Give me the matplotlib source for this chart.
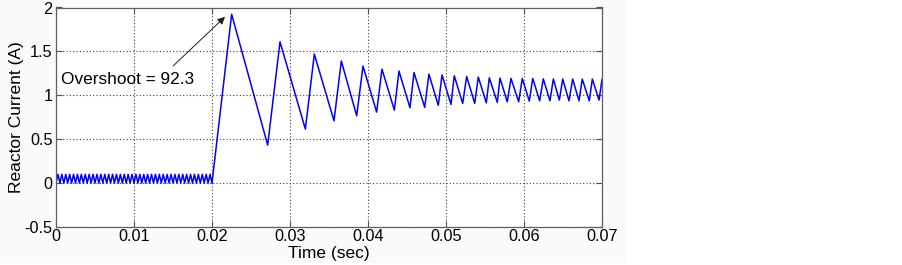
import matplotlib
matplotlib.use("Agg")
import matplotlib.pyplot as plt
from matplotlib.patches import Rectangle

plt.rcParams['font.family'] = ['Liberation Sans', 'DejaVu Sans']

# ripple before step (time in ms, current in A)
ripple_t_ms = [0, 0.25, 0.5, 0.75, 1.0, 1.25, 1.5, 1.75, 2.0, 2.25, 2.5, 2.75, 3.0, 3.25, 3.5, 3.75,
               4.0, 4.25, 4.5, 4.75, 5.0, 5.25, 5.5, 5.75, 6.0, 6.25, 6.5, 6.75, 7.0, 7.25, 7.5, 7.75,
               8.0, 8.25, 8.5, 8.75, 9.0, 9.25, 9.5, 9.75, 10.0, 10.25, 10.5, 10.75, 11.0, 11.25, 11.5, 11.75,
               12.0, 12.25, 12.5, 12.75, 13.0, 13.25, 13.5, 13.75, 14.0, 14.25, 14.5, 14.75, 15.0, 15.25, 15.5, 15.75,
               16.0, 16.25, 16.5, 16.75, 17.0, 17.25, 17.5, 17.75, 18.0, 18.25, 18.5, 18.75, 19.0, 19.25, 19.5, 19.75, 20.0]
ripple_i = [0.0, 0.1, 0.0, 0.1, 0.0, 0.1, 0.0, 0.1, 0.0, 0.1, 0.0, 0.1, 0.0, 0.1, 0.0, 0.1,
            0.0, 0.1, 0.0, 0.1, 0.0, 0.1, 0.0, 0.1, 0.0, 0.1, 0.0, 0.1, 0.0, 0.1, 0.0, 0.1,
            0.0, 0.1, 0.0, 0.1, 0.0, 0.1, 0.0, 0.1, 0.0, 0.1, 0.0, 0.1, 0.0, 0.1, 0.0, 0.1,
            0.0, 0.1, 0.0, 0.1, 0.0, 0.1, 0.0, 0.1, 0.0, 0.1, 0.0, 0.1, 0.0, 0.1, 0.0, 0.1,
            0.0, 0.1, 0.0, 0.1, 0.0, 0.1, 0.0, 0.1, 0.0, 0.1, 0.0, 0.1, 0.0, 0.1, 0.0, 0.1, 0.0]

# response after step (peaks and troughs)
step_t = [0.02252, 0.02714, 0.02872, 0.03197, 0.03312, 0.03564, 0.03658, 0.03855, 0.03936, 0.04111,
          0.04179, 0.04338, 0.04397, 0.04538, 0.04590, 0.04727, 0.04781, 0.04901, 0.04949, 0.05064,
          0.05106, 0.05214, 0.05265, 0.05368, 0.05414, 0.05517, 0.05555, 0.05658, 0.05692, 0.05786,
          0.05833, 0.05932, 0.05978, 0.06068, 0.06112, 0.06201, 0.06247, 0.06333, 0.06376, 0.06453,
          0.06496, 0.06577, 0.06624, 0.06705, 0.06747, 0.06837, 0.06876, 0.06962, 0.07000]
step_i = [1.923, 0.433, 1.609, 0.615, 1.469, 0.710, 1.390, 0.767, 1.333, 0.809,
          1.298, 0.831, 1.276, 0.858, 1.259, 0.863, 1.241, 0.885, 1.232, 0.896,
          1.222, 0.908, 1.215, 0.908, 1.207, 0.915, 1.199, 0.919, 1.196, 0.926,
          1.192, 0.926, 1.192, 0.934, 1.192, 0.937, 1.188, 0.937, 1.185, 0.945,
          1.185, 0.937, 1.185, 0.937, 1.185, 0.937, 1.185, 0.945, 1.180]

x_ticks = [0, 0.01, 0.02, 0.03, 0.04, 0.05, 0.06, 0.07]
x_labels = ["0", "0.01", "0.02", "0.03", "0.04", "0.05", "0.06", "0.07"]
y_ticks = [-0.5, 0, 0.5, 1, 1.5, 2]
y_labels = ["-0.5", "0", "0.5", "1", "1.5", "2"]

t = [v / 1000.0 for v in ripple_t_ms] + step_t
i = ripple_i + step_i

fig = plt.figure(figsize=(9.02, 2.65), dpi=100)
fig.patches.append(Rectangle((0, 0.008), 626 / 902, 0.992, transform=fig.transFigure,
                             facecolor='#fafafa', edgecolor='none', zorder=-10))
ax = fig.add_axes([56 / 902, 1 - 227 / 265, (602 - 56) / 902, (227 - 7.5) / 265])
ax.plot(t, i, color='#0000ff', lw=1.1)

ax.set_xlim(0, 0.07)
ax.set_ylim(-0.5, 2)
ax.set_xticks(x_ticks)
ax.set_xticklabels(x_labels)
ax.set_yticks(y_ticks)
ax.set_yticklabels(y_labels)
ax.tick_params(direction='in', top=True, right=True, length=4, width=0.8, color='#505050',
               labelsize=11.7, labelcolor='#000000')
ax.tick_params(axis='x', pad=1.5)
ax.tick_params(axis='y', pad=2.5)
for s in ax.spines.values():
    s.set_color('#606060')
    s.set_linewidth(0.9)
ax.grid(True, linestyle=(0, (1, 2)), color='#404040', linewidth=0.8)
ax.set_axisbelow(True)

ax.set_xlabel('Time (sec)', fontsize=12.5)
ax.xaxis.set_label_coords(0.5, -(246 - 227) / 219.5)
ax.set_ylabel('Reactor Current (A)', fontsize=12.5)
ax.yaxis.label.set_verticalalignment('center')
ax.yaxis.set_label_coords((17 - 56) / 546, 0.5)

ax.annotate('Overshoot = 92.3', xy=(0.02167, 1.894), xytext=(0.0006, 1.185),
            fontsize=12.4, va='center', ha='left',
            arrowprops=dict(arrowstyle='-|>', color='#202020', lw=0.7,
                            mutation_scale=11, shrinkA=3, shrinkB=0,
                            relpos=(0.8, 1.0)))

fig.savefig('out.png', dpi=100)
